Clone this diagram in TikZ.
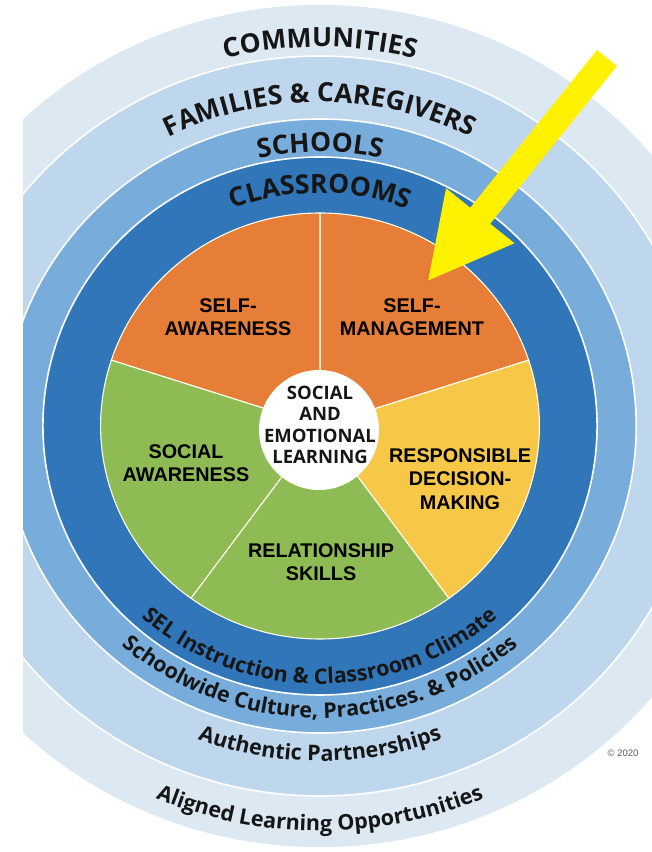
\documentclass[tikz,border=0pt]{standalone}
\usepackage{fontspec}
\setmainfont{Liberation Sans}
\newfontfamily\osans{Open Sans}
\usetikzlibrary{decorations.text,arrows.meta}

% band and sector colours
\definecolor{bandCommunity}{RGB}{220,233,243}
\definecolor{bandFamily}{RGB}{190,215,237}
\definecolor{bandSchool}{RGB}{120,172,218}
\definecolor{bandClass}{RGB}{48,118,184}
\definecolor{secOrange}{RGB}{230,126,55}
\definecolor{secYellow}{RGB}{247,200,72}
\definecolor{secGreen}{RGB}{142,187,84}
\definecolor{inkdark}{RGB}{22,22,22}
\definecolor{copygray}{RGB}{90,90,90}

% fonts for the curved ring captions
\newcommand\capsfont{\osans\bfseries\fontsize{26.5}{26.5}\selectfont}
\newcommand\lowerfont{\osans\bfseries\fontsize{21.5}{22}\selectfont}

\tikzset{
  band/.style={fill=#1, draw=white, line width=1.6pt},
  sector/.style={fill=#1, draw=white!92!yellow, line width=1.1pt},
  sectorlabel/.style={font=\bfseries\fontsize{19.8}{23.5}\selectfont,
                      align=center, text=black, inner sep=0pt},
  corelabel/.style={font=\osans\bfseries\fontsize{18.5}{21.3}\selectfont,
                    align=center, text=inkdark, inner sep=0pt},
  corecircle/.style={circle, fill=white, minimum size=120pt, inner sep=0pt},
  pointer/.style={draw=yellow, line width=25.6pt,
                  -{Triangle[width=81pt,length=85pt,fill=yellow]}},
}

\begin{document}
\begin{tikzpicture}[x=1pt,y=1pt]
\useasboundingbox (0,0) rectangle (652,852);
\coordinate (C) at (320,426);

% concentric bands and the five-part wheel
\begin{scope}
  \clip (23,0) rectangle (652,852);
  \begin{scope}[shift={(C)}, xscale=1.03]
    \path[band=bandCommunity] (0,0) circle[radius=422];
    \path[band=bandFamily]    (0,0) circle[radius=370];
    \path[band=bandSchool]    (0,0) circle[radius=307];
    \path[band=bandClass]     (0,0) circle[radius=269];
    \path[sector=secOrange] (0,0) -- (18:213)  arc[start angle=18,  end angle=90,  radius=213] -- cycle;
    \path[sector=secOrange] (0,0) -- (90:213)  arc[start angle=90,  end angle=162, radius=213] -- cycle;
    \path[sector=secGreen]  (0,0) -- (162:213) arc[start angle=162, end angle=234, radius=213] -- cycle;
    \path[sector=secGreen]  (0,0) -- (234:213) arc[start angle=234, end angle=306, radius=213] -- cycle;
    \path[sector=secYellow] (0,0) -- (306:213) arc[start angle=306, end angle=378, radius=213] -- cycle;
  \end{scope}
\end{scope}

% captions along the top of each band
\path[shift={(C)}, decorate, decoration={text along path, text align=center, text color=inkdark,
  text={|\capsfont|COMMUNITIES}}]
  (150:390.4 and 379) arc[start angle=150, end angle=30, x radius=390.4, y radius=379];
\path[shift={(C)}, decorate, decoration={text along path, text align=center, text color=inkdark,
  text={|\capsfont|FAMILIES {\&} CAREGIVERS}}]
  (160:333.7 and 324) arc[start angle=160, end angle=20, x radius=333.7, y radius=324];
\path[shift={(C)}, decorate, decoration={text along path, text align=center, text color=inkdark,
  text={|\capsfont|SCHOOLS}}]
  (150:282.2 and 274) arc[start angle=150, end angle=30, x radius=282.2, y radius=274];
\path[shift={(C)}, decorate, decoration={text along path, text align=center, text color=inkdark,
  text={|\capsfont|CLASSROOMS}}]
  (150:240 and 233) arc[start angle=150, end angle=30, x radius=240, y radius=233];

% captions along the bottom of each band
\path[shift={(C)}, decorate, decoration={text along path, text align=center, text color=inkdark,
  text={|\lowerfont|SEL Instruction {\&} Classroom Climate}}]
  (190:265.7 and 258) arc[start angle=190, end angle=350, x radius=265.7, y radius=258];
\path[shift={(C)}, decorate, decoration={text along path, text align=center, text color=inkdark,
  text={|\lowerfont|Schoolwide Culture, Practices. {\&} Policies}}]
  (190:300.7 and 292) arc[start angle=190, end angle=350, x radius=300.7, y radius=292];
\path[shift={(C)}, decorate, decoration={text along path, text align=center, text color=inkdark,
  text={|\lowerfont|Authentic Partnerships}}]
  (200:345 and 335) arc[start angle=200, end angle=340, x radius=345, y radius=335];
\path[shift={(C)}, decorate, decoration={text along path, text align=center, text color=inkdark,
  text={|\lowerfont|Aligned Learning Opportunities}}]
  (200:417 and 405) arc[start angle=200, end angle=340, x radius=417, y radius=405];

% wheel labels
\node[sectorlabel] (selfaw)  at (228,535) {SELF-\\AWARENESS};
\node[sectorlabel] (selfman) at (412,535) {SELF-\\MANAGEMENT};
\node[sectorlabel] (socaw)   at (186,389) {SOCIAL\\AWARENESS};
\node[sectorlabel] (respdec) at (460,373) {RESPONSIBLE\\DECISION-\\MAKING};
\node[sectorlabel] (relsk)   at (321,290) {RELATIONSHIP\\SKILLS};

% hub
\node[corecircle] (hub) at (319,422) {};
\node[corelabel] (hubtext) at (320,427) {SOCIAL\\AND\\EMOTIONAL\\LEARNING};

% copyright
\node[font=\fontsize{9.5}{10}\selectfont, text=copygray, inner sep=0pt] (copy) at (623,99) {\textcopyright{} 2020};

% yellow pointer onto self-management
\coordinate (pointerTail) at (607,794);
\coordinate (pointerTip) at (427,570);
\draw[pointer] (pointerTail) -- (pointerTip);
\end{tikzpicture}
\end{document}
